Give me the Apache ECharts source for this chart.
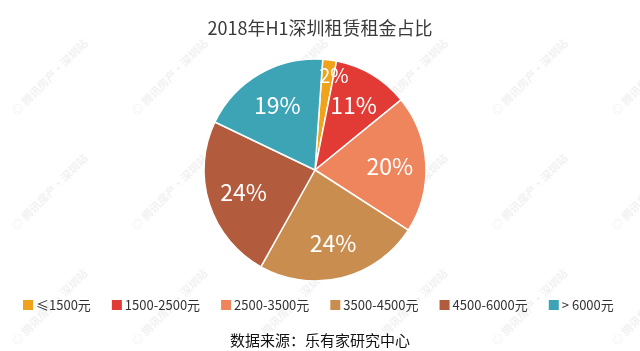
<!DOCTYPE html>
<html>
<head>
<meta charset="utf-8">
<script src="https://cdn.jsdelivr.net/npm/echarts@6/dist/echarts.min.js"></script>
<style>
  html, body { margin: 0; padding: 0; background: #fff; }
  #chart { width: 640px; height: 351px; }
</style>
</head>
<body>
<div id="chart"></div>
<script>
const categories = ['≤1500元', '1500-2500元', '2500-3500元', '3500-4500元', '4500-6000元', '> 6000元'];
const shares = [2, 11, 20, 24, 24, 19];
const colors = ['#F0A21B', '#E23B35', '#EE855C', '#C98D50', '#B35B3D', '#3CA4B5'];

const chart = echarts.init(document.getElementById('chart'), null, { renderer: 'canvas' });
const font = '"Microsoft YaHei", "Noto Sans CJK SC", sans-serif';

// faint site watermark, purely decorative
const marks = [];
for (let r = 0; r < 4; r++) {
  for (let c = 0; c < 6; c++) {
    marks.push({
      type: 'text',
      x: 10 + c * 120,
      y: -6 + r * 115,
      rotation: Math.PI / 4,
      z: -1,
      style: { text: '◎ 腾讯房产·深圳站', fill: '#f1f1f1', font: 'bold 11px ' + font }
    });
  }
}

const pieData = categories.map((name, i) => ({ name: name, value: shares[i] }));

const option = {
  backgroundColor: '#ffffff',
  color: colors,
  textStyle: { fontFamily: font },
  graphic: marks,
  title: [{
    text: '2018年H1深圳租赁租金占比',
    left: 'center',
    top: 14,
    textStyle: { fontSize: 18, fontWeight: 'normal', color: '#3a3a3a', fontFamily: font }
  }, {
    text: '数据来源：乐有家研究中心',
    left: 'center',
    top: 328,
    textStyle: { fontSize: 15, fontWeight: 'normal', color: '#111', fontFamily: font }
  }],
  legend: {
    data: categories,
    left: 16,
    right: 0,
    top: 293,
    itemWidth: 12,
    itemHeight: 12,
    itemGap: 19,
    icon: 'rect',
    textStyle: { fontSize: 13, color: '#333', padding: [0, 0, 0, -3] }
  },
  series: [{
    type: 'pie',
    center: [315, 170],
    radius: [0, 111],
    startAngle: 86,
    clockwise: true,
    itemStyle: { borderColor: '#fff', borderWidth: 1.5 },
    label: { show: false },
    labelLine: { show: false },
    emphasis: { disabled: true },
    data: pieData
  }, {
    // transparent twin used only to place labels further from the centre
    type: 'pie',
    center: [315, 170],
    radius: [0, 144],
    startAngle: 86,
    clockwise: true,
    silent: true,
    legendHoverLink: false,
    itemStyle: { color: 'transparent', borderWidth: 0 },
    label: {
      show: true,
      position: 'inside',
      formatter: '{c}%',
      color: '#fff',
      fontSize: 23,
      fontFamily: font
    },
    labelLine: { show: false },
    emphasis: { disabled: true },
    data: pieData.map((d, i) => i === 0 ? { name: d.name, value: d.value, label: { fontSize: 20, offset: [9, -20] } } : d)
  }]
};

chart.setOption(option);
</script>
</body>
</html>
